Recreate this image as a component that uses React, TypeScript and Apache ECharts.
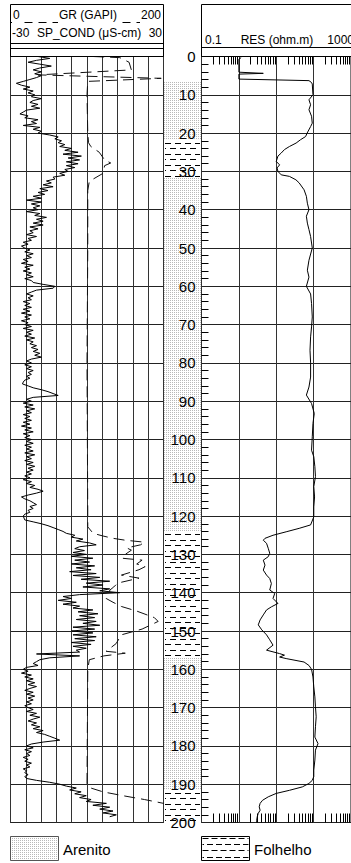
import React, { useEffect, useRef } from 'react';
import * as echarts from 'echarts';

const FONT = "'Liberation Sans', Arial, Helvetica, sans-serif";

// Depth range (m)
const depthMin = 0;
const depthMax = 200;

// SP_COND (solid curve), sampled every 0.5 m from 0 m
const spStep = 0.5;
const spValues = [
  -19.2, -14.6, -19.8, -23.1, -18.5, -14.0, -18.5, -21.1, -17.9, -20.5, -17.9, -19.8, -22.4, -25.0, -27.7, -25.7, -22.4, -25.0, -21.1, -23.1,
  -20.5, -21.8, -17.9, -21.1, -22.4, -19.2, -21.8, -18.5, -23.7, -25.0, -26.3, -23.1, -24.4, -19.2, -21.8, -19.8, -25.0, -18.5, -21.1, -17.9,
  -19.2, -14.6, -11.3, -12.6, -10.0, -11.3, -8.7, -10.7, -6.1, -8.7, -3.5, -9.4, -2.2, -7.4, -2.9, -8.1, -3.5, -8.1, -4.8, -8.7,
  -7.4, -10.7, -8.7, -13.3, -12.6, -15.9, -14.0, -17.2, -13.3, -18.5, -15.3, -19.2, -16.6, -21.1, -17.9, -23.7, -17.9, -21.8, -18.5, -21.1,
  -19.2, -23.7, -18.5, -20.5, -15.9, -19.8, -17.2, -21.1, -17.2, -22.4, -19.2, -22.4, -21.1, -23.7, -19.8, -23.1, -21.8, -25.0, -23.1, -25.7,
  -24.4, -22.4, -24.4, -21.1, -23.7, -21.8, -25.0, -23.1, -25.7, -21.1, -24.4, -22.4, -25.0, -21.8, -23.7, -21.1, -24.4, -21.8, -21.1, -17.2,
  -12.6, -13.3, -19.8, -21.8, -23.7, -21.1, -23.1, -21.8, -25.0, -22.4, -24.4, -21.8, -25.0, -22.4, -25.7, -21.8, -24.4, -22.4, -25.7, -23.1,
  -24.4, -21.8, -25.0, -21.1, -23.7, -21.8, -24.4, -20.5, -23.7, -21.1, -22.4, -19.8, -21.8, -19.2, -21.1, -18.5, -20.5, -17.9, -21.8, -23.7,
  -21.8, -24.4, -21.8, -23.7, -21.1, -23.1, -21.8, -23.7, -22.4, -24.4, -25.0, -25.3, -23.1, -21.1, -17.9, -15.3, -13.3, -11.3, -21.1, -23.7,
  -21.8, -25.0, -21.1, -24.4, -20.5, -23.7, -21.8, -25.0, -22.4, -24.4, -21.8, -25.0, -22.4, -25.7, -21.8, -24.4, -21.1, -25.0, -22.4, -24.4,
  -21.8, -23.7, -21.1, -24.4, -21.8, -23.7, -21.1, -24.4, -20.5, -23.7, -21.8, -24.4, -21.1, -23.7, -20.5, -23.1, -21.1, -23.7, -21.8, -24.4,
  -22.4, -25.0, -21.8, -23.7, -20.5, -22.4, -19.2, -17.2, -19.8, -23.1, -25.7, -24.4, -22.4, -21.1, -19.8, -22.4, -21.1, -23.1, -22.4, -24.4,
  -25.0, -24.7, -24.4, -21.1, -17.9, -15.3, -13.3, -11.3, -9.4, -8.1, -4.8, -6.1, -1.6, -4.2, 1.0, 3.6, -2.9, -4.8, -1.0, -5.5,
  -0.3, -6.1, 2.3, -4.8, 1.0, -6.1, 3.0, -4.2, 1.6, -6.8, 3.6, -5.5, 5.0, -2.3, 8.9, -0.3, 6.3, -1.6, 8.9, 5.0,
  12.8, -2.9, -9.4, -6.1, -11.3, -4.2, -9.4, -2.9, -5.5, 2.3, -3.5, 4.3, -2.9, 3.0, -4.2, 3.6, -1.6, 5.0, -5.5, 3.0,
  -6.1, 2.3, -5.5, 3.6, -4.8, 3.0, -6.1, 1.6, -5.5, -0.3, -4.2, -2.9, -19.8, -2.9, -14.6, -18.5, -19.8, -21.1, -19.2, -23.7,
  -25.0, -23.1, -25.7, -21.8, -24.4, -21.1, -23.7, -20.5, -23.1, -19.8, -22.4, -24.4, -21.1, -23.7, -20.5, -23.1, -21.1, -23.7, -21.8, -24.4,
  -23.1, -21.1, -23.7, -19.8, -22.4, -18.5, -21.1, -23.1, -19.8, -21.8, -18.5, -21.1, -17.2, -19.8, -16.6, -14.6, -12.6, -10.7, -17.2, -21.8,
  -23.7, -21.1, -24.4, -21.8, -23.7, -22.4, -25.0, -23.1, -24.4, -21.8, -23.7, -22.4, -25.0, -23.7, -24.4, -23.1, -24.4, -23.7, -19.8, -14.6,
  -10.7, -8.1, -4.2, -6.8, -2.3, -4.8, -0.3, -2.9, 1.6, -0.3, 7.6, 2.3, 8.9, 5.0, 10.2, 6.3, 11.5, 8.9,
];

// GR (dashed curve)
const grDepth = [
  0, 0.3, 1.5, 3.5, 4.8, 5.7, 6.5, 10, 20, 22.5,
  23.5, 25, 27, 27.8, 28.5, 30.5, 32.6, 35, 50, 80,
  120, 122.8, 124.5, 125.2, 125.8, 126.3, 126.8, 127.5, 128.3, 128.9,
  130, 131, 131.5, 132.5, 133.2, 134, 135.4, 136.2, 137.5, 138.5,
  139.3, 141.5, 142.5, 143.6, 144.8, 146.5, 147.5, 149.5, 151, 153.3,
  155.3, 155.8, 156.5, 157.5, 160, 189.9, 191, 192, 193, 194,
  195, 196,
];
const grValue = [
  108, 143, 155, 158, 36, 197, 101, 100, 101, 102,
  105, 116, 123, 131, 123, 121, 103, 101, 101, 100,
  101, 101, 108, 121, 134, 150, 175, 170, 152, 158,
  150, 146, 172, 165, 176, 168, 145, 168, 140, 135,
  130, 125, 134, 145, 165, 188, 193, 172, 145, 138,
  125, 150, 122, 103, 101, 100, 105, 121, 147, 175,
  200, 215,
];

// RES (ohm.m), log scale
const resDepth = [
  0.3, 0.7, 4.1, 4.4, 4.6, 5.9, 6.3, 6.8, 7.2, 10,
  11.3, 12.6, 13.9, 15.6, 17.4, 18.3, 20, 20.9, 21.7, 22.6,
  23.5, 24.3, 25.2, 26, 27.4, 28.3, 29.1, 30, 30.9, 31.3,
  32.2, 33, 34.8, 36.5, 38.3, 40, 41.7, 43.5, 45.2, 47,
  48.7, 50, 53.2, 55.8, 57.6, 60, 62, 64.5, 68, 70.6,
  73.2, 76.7, 80, 83.7, 86.3, 88.4, 90.6, 93.2, 95.8, 99.3,
  102.8, 104.5, 107.1, 109.7, 112.3, 115, 117.6, 120.2, 122.3, 123.2,
  124.1, 125, 125.8, 126.3, 127.1, 128.4, 129.7, 130.6, 131.5, 132.8,
  134.1, 135.4, 136.3, 137.6, 139.3, 140.2, 141.5, 142.8, 143.7, 144.5,
  145.8, 147.1, 148.4, 149.7, 151, 152.3, 153.7, 155, 155.9, 156.3,
  156.8, 157.2, 158.1, 159, 160, 162, 164.6, 167.2, 169.8, 172.4,
  175, 177.7, 179.4, 181.1, 183.7, 186.3, 188, 189, 189.8, 190.7,
  191.6, 192.4, 193.3, 194.2, 195, 195.9, 196.8, 197.6, 198.5, 199.4,
  200,
];
const resValue = [
  1.15, 1.0, 1.0, 4.5, 1.0, 1.0, 75, 88, 92, 96,
  75, 83, 75, 88, 92, 83, 67, 61, 45, 34,
  22.5, 16.6, 13.6, 11.1, 10, 12.3, 10.5, 11.1, 13.6, 22.5,
  33.6, 41, 55.5, 64, 68, 75, 64, 68, 75, 83,
  88, 92, 75, 68, 75, 64, 83, 88, 92, 88,
  83, 80, 83, 83, 75, 64, 88, 104, 96, 92,
  88, 101, 108, 112, 101, 106, 101, 101, 83, 41,
  18.4, 8.2, 5.0, 4.5, 5.5, 6.1, 6.7, 6.1, 4.5, 5.0,
  4.5, 5.5, 6.7, 7.4, 6.7, 9.1, 8.2, 11.1, 7.4, 5.5,
  4.5, 3.7, 3.3, 4.1, 5.5, 6.7, 8.2, 5.5, 12.3, 16.6,
  12.3, 18.4, 55.5, 75, 88, 96, 101, 108, 112, 117,
  112, 108, 131, 112, 108, 101, 101, 92, 75, 50,
  22.5, 10, 6.1, 4.3, 3.7, 3.5, 3.7, 3.3, 3.1, 3.0,
  3.0,
];

// Lithology intervals
const lithTop = [6.5, 21.7, 31.7, 124, 157, 191.5];
const lithBase = [21.7, 31.7, 124, 157, 191.5, 200];
const lithName = ['Arenito', 'Folhelho', 'Arenito', 'Folhelho', 'Arenito', 'Folhelho'];

// Log-axis minor tick positions
const logDecades = [0.1, 1, 10, 100];
const logMultipliers = [2, 3, 4, 5, 6, 7, 8, 9];

// Axis ranges
const grRange = [0, 200];
const spRange = [-30, 30];
const resRange = [0.1, 1000];

function makeStipple(): any {
  const c = document.createElement('canvas');
  c.width = 2;
  c.height = 2;
  const ctx = c.getContext('2d');
  if (ctx) {
    ctx.fillStyle = '#ffffff';
    ctx.fillRect(0, 0, 2, 2);
    ctx.fillStyle = '#b8b8b8';
    ctx.fillRect(0, 0, 1, 1);
  }
  return { image: c, repeat: 'repeat', imageWidth: 2, imageHeight: 2 };
}

function shaleDashes(x: number, y: number, w: number, h: number, rowGap: number, dash: number, gap: number, first: number): any[] {
  const out: any[] = [];
  let row = 0;
  for (let yy = y + first; yy < y + h - 0.5; yy += rowGap, row++) {
    const py = Math.round(yy) + 0.5;
    const period = dash + gap;
    const start = x + 1 + (row % 2 ? period / 2 - period : 0);
    for (let xx = start; xx < x + w; xx += period) {
      const x1 = Math.max(x + 1, xx);
      const x2 = Math.min(x + w - 1, xx + dash);
      if (x2 - x1 > 0.8) {
        out.push({ type: 'line', shape: { x1, y1: py, x2, y2: py }, style: { stroke: '#000', lineWidth: 1 } });
      }
    }
  }
  return out;
}

function txt(text: string, x: number, y: number, align: string, size: number, bg?: boolean, pad?: number[]): any {
  const style: any = {
    text, x, y, fill: '#000', fontSize: size, fontFamily: FONT,
    align, verticalAlign: 'middle', textAlign: align, textVerticalAlign: 'middle',
  };
  if (bg) {
    style.backgroundColor = '#fff';
    style.padding = pad || [1, 1, 1, 1];
  }
  return { type: 'text', z: 20, style };
}

function hline(x1: number, x2: number, y: number, dash?: number[]): any {
  const style: any = { stroke: '#000', lineWidth: 1 };
  if (dash) style.lineDash = dash;
  return { type: 'line', z: 10, shape: { x1, y1: y, x2, y2: y }, style };
}

export default function App() {
  const ref = useRef<HTMLDivElement>(null);

  useEffect(() => {
    if (!ref.current) return;
    const chart = echarts.init(ref.current, undefined, { renderer: 'svg' });
    const stipple = makeStipple();

    const L = 10.5, LW = 153, C = 163.5, CW = 38, R = 201.5, RW = 153;
    const TOP = 56.5, H = 766;

    const logTicks: number[][] = [];
    logDecades.forEach((d) => logMultipliers.forEach((m) => logTicks.push([d * m, 0])));

    const lithData = lithTop.map((t, i) => [t, lithBase[i], lithName[i] === 'Arenito' ? 0 : 1]);

    const folX = 201.5, folY = 836.5, folW = 48, folH = 24;

    const option: any = {
      animation: false,
      backgroundColor: '#fff',
      textStyle: { fontFamily: FONT },
      grid: [
        { left: L, top: TOP, width: LW, height: H, show: true, borderColor: '#000', borderWidth: 1, backgroundColor: 'transparent', containLabel: false },
        { left: C, top: TOP, width: CW, height: H, show: false, containLabel: false },
        { left: R, top: TOP, width: RW, height: H, show: true, borderColor: '#000', borderWidth: 1, backgroundColor: 'transparent', containLabel: false },
      ],
      xAxis: [
        {
          gridIndex: 0, type: 'value', min: spRange[0], max: spRange[1], interval: 6,
          axisLine: { show: false }, axisTick: { show: false }, axisLabel: { show: false },
          splitLine: { show: true, lineStyle: { color: '#333', width: 1 } },
        },
        { gridIndex: 0, type: 'value', min: grRange[0], max: grRange[1], show: false, splitLine: { show: false } },
        { gridIndex: 1, type: 'value', min: 0, max: 1, show: false, splitLine: { show: false } },
        {
          gridIndex: 2, type: 'log', logBase: 10, min: resRange[0], max: resRange[1],
          axisLine: { show: false }, axisTick: { show: false }, axisLabel: { show: false },
          splitLine: { show: true, lineStyle: { color: '#333', width: 1 } },
        },
      ],
      yAxis: [
        {
          gridIndex: 0, type: 'value', min: depthMin, max: depthMax, interval: 10, inverse: true,
          axisLine: { show: false }, axisTick: { show: false }, axisLabel: { show: false },
          splitLine: { show: true, lineStyle: { color: '#222', width: 1 } },
        },
        {
          gridIndex: 1, type: 'value', min: depthMin, max: depthMax, interval: 10, inverse: true,
          position: 'right', z: 10,
          axisLine: { show: false }, axisTick: { show: false },
          axisLabel: { show: true, inside: true, margin: 6, fontSize: 15, color: '#000', fontFamily: FONT },
          splitLine: { show: false },
        },
        {
          gridIndex: 2, type: 'value', min: depthMin, max: depthMax, interval: 10, inverse: true,
          position: 'left',
          axisLine: { show: false }, axisTick: { show: false, inside: true },
          minorTick: { show: true, splitNumber: 5, length: 7, lineStyle: { color: '#000', width: 1 } },
          axisLabel: { show: false },
          splitLine: { show: true, lineStyle: { color: '#222', width: 1 } },
        },
      ],
      series: [
        {
          name: 'Litologia', type: 'custom', xAxisIndex: 2, yAxisIndex: 1, z: 1,
          data: lithData,
          renderItem: (params: any, api: any) => {
            const top = api.value(0), base = api.value(1), kind = api.value(2);
            const p0 = api.coord([0, top]);
            const p1 = api.coord([1, base]);
            const x = p0[0] + 0.5, y = p0[1], w = p1[0] - p0[0] - 1, h = p1[1] - p0[1];
            if (kind === 0) {
              return { type: 'rect', shape: { x, y, width: w, height: h }, style: { fill: stipple, stroke: null } };
            }
            return {
              type: 'group',
              children: [
                { type: 'rect', shape: { x, y, width: w, height: h }, style: { fill: '#fff', stroke: null } },
                ...shaleDashes(x, y, w, h, 5.5, 6, 4, 3),
              ],
            };
          },
        },
        {
          name: 'SP_COND', type: 'line', xAxisIndex: 0, yAxisIndex: 0, z: 3,
          data: spValues.map((v, i) => [v, depthMin + i * spStep]),
          symbol: 'none', clip: true, silent: true,
          lineStyle: { color: '#000', width: 1 },
        },
        {
          name: 'GR', type: 'line', xAxisIndex: 1, yAxisIndex: 0, z: 3,
          data: grDepth.map((d, i) => [grValue[i], d]),
          symbol: 'none', clip: true, silent: true,
          lineStyle: { color: '#111', width: 1, type: [11, 6] },
        },
        {
          name: 'RES', type: 'line', xAxisIndex: 3, yAxisIndex: 2, z: 3,
          data: resDepth.map((d, i) => [resValue[i], d]),
          symbol: 'none', clip: true, silent: true,
          lineStyle: { color: '#000', width: 1 },
        },
        {
          name: 'logTicks', type: 'custom', xAxisIndex: 3, yAxisIndex: 2, z: 4,
          data: logTicks,
          renderItem: (params: any, api: any) => {
            const v = api.value(0);
            const t = api.coord([v, depthMin]);
            const b = api.coord([v, depthMax]);
            const x = Math.round(t[0]) + 0.5;
            return {
              type: 'group',
              children: [
                { type: 'line', shape: { x1: x, y1: t[1], x2: x, y2: t[1] + 8 }, style: { stroke: '#000', lineWidth: 1 } },
                { type: 'line', shape: { x1: x, y1: b[1], x2: x, y2: b[1] - 9 }, style: { stroke: '#000', lineWidth: 1 } },
              ],
            };
          },
        },
      ],
      graphic: [
        // Left header
        { type: 'rect', z: 5, shape: { x: L, y: 4.5, width: LW, height: TOP - 4.5 }, style: { fill: 'none', stroke: '#000', lineWidth: 1 } },
        hline(L, L + LW, 22.5, [8, 6]),
        hline(L, L + LW, 43.5),
        hline(L, L + LW, 48.5),
        txt('0', 12, 15, 'left', 12, true, [1, 1, 4, 1]),
        txt('GR (GAPI)', 88, 15, 'center', 12, true, [1, 1, 4, 1]),
        txt('200', 162, 15, 'right', 12, true, [1, 1, 4, 1]),
        txt('-30', 12, 33, 'left', 12),
        txt('SP_COND (μS-cm)', 89, 33, 'center', 12),
        txt('30', 162, 33, 'right', 12),
        // Right header
        { type: 'rect', z: 5, shape: { x: R, y: 4.5, width: RW, height: TOP - 4.5 }, style: { fill: 'none', stroke: '#000', lineWidth: 1 } },
        hline(R, R + RW, 47.5),
        txt('0.1', 205, 39.5, 'left', 12),
        txt('RES (ohm.m)', 277, 39.5, 'center', 12),
        txt('1000', 354, 39.5, 'right', 12),
        // Legend
        { type: 'rect', z: 5, shape: { x: 10.5, y: 836.5, width: 48, height: 24 }, style: { fill: stipple, stroke: '#555', lineWidth: 1 } },
        txt('Arenito', 63, 849, 'left', 15),
        { type: 'rect', z: 5, shape: { x: folX, y: folY, width: folW, height: folH }, style: { fill: '#fff', stroke: '#000', lineWidth: 1 } },
        ...shaleDashes(folX, folY, folW, folH, 6.2, 6, 3, 1.5).map((e) => ({ ...e, z: 6 })),
        txt('Folhelho', 254, 849, 'left', 15),
      ],
    };

    chart.setOption(option);
    return () => chart.dispose();
  }, []);

  return <div ref={ref} style={{ position: 'absolute', left: 0, top: 0, width: 351, height: 863 }} />;
}
